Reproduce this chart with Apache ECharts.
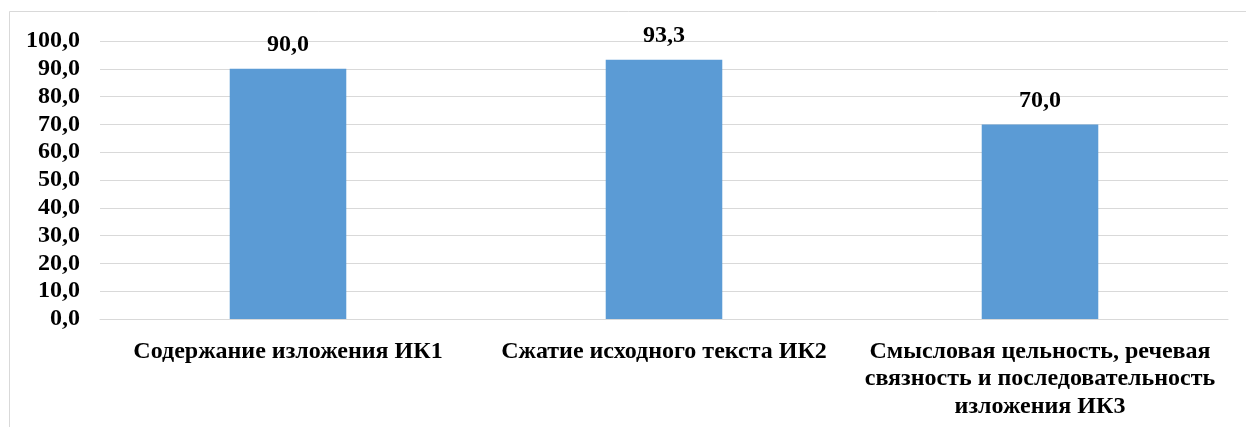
<!DOCTYPE html>
<html>
<head>
<meta charset="utf-8">
<script src="https://cdn.jsdelivr.net/npm/echarts@6/dist/echarts.min.js"></script>
<style>
html, body { margin: 0; padding: 0; background: #fff; }
#chart { width: 1246px; height: 427px; }
</style>
</head>
<body>
<div id="chart"></div>
<script>
// данные диаграммы
var categories = [
    'Содержание изложения ИК1',
    'Сжатие исходного текста ИК2',
    'Смысловая цельность, речевая\nсвязность и последовательность\nизложения ИК3'
];
var values = [90.0, 93.3, 70.0];

var fontFamily = '"Times New Roman", "Liberation Serif", serif';

function comma(v) {
    return Number(v).toFixed(1).replace('.', ',');
}

var myChart = echarts.init(document.getElementById('chart'));

var option = {
    animation: false,
    backgroundColor: '#ffffff',
    textStyle: { fontFamily: fontFamily },
    graphic: [{
        type: 'rect',
        shape: { x: 9.5, y: 11.5, width: 1400, height: 600 },
        style: { fill: 'none', stroke: '#d9d9d9', lineWidth: 1 },
        silent: true
    }],
    grid: { left: 100, right: 18, top: 41, bottom: 108 },
    xAxis: {
        type: 'category',
        data: categories,
        axisTick: { show: false },
        axisLine: { lineStyle: { color: '#d9d9d9', width: 1 } },
        axisLabel: {
            interval: 0,
            color: '#000',
            fontWeight: 'bold',
            fontSize: 24,
            lineHeight: 27.5,
            margin: 19,
            fontFamily: fontFamily
        }
    },
    yAxis: {
        type: 'value',
        min: 0,
        max: 100,
        interval: 10,
        axisLine: { show: false },
        axisTick: { show: false },
        splitLine: { lineStyle: { color: '#d9d9d9', width: 1 } },
        axisLabel: {
            color: '#000',
            fontWeight: 'bold',
            fontSize: 24,
            margin: 20,
            fontFamily: fontFamily,
            formatter: comma
        }
    },
    series: [{
        type: 'bar',
        data: values,
        barWidth: '31%',
        itemStyle: { color: '#5b9bd5' },
        label: {
            show: true,
            position: 'top',
            distance: 12,
            color: '#000',
            fontWeight: 'bold',
            fontSize: 24,
            fontFamily: fontFamily,
            formatter: function (p) { return comma(p.value); }
        }
    }]
};

myChart.setOption(option);

window.onresize = function () {
    myChart.resize();
};
</script>
</body>
</html>
